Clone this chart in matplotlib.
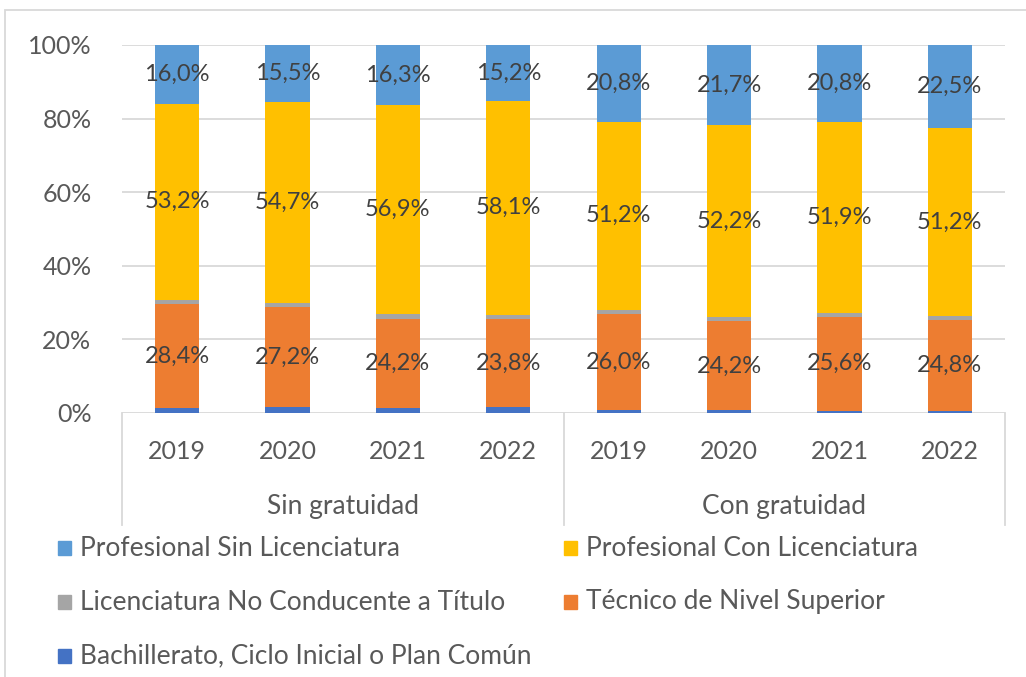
import matplotlib.pyplot as plt
from matplotlib.patches import Rectangle
from matplotlib.lines import Line2D
import numpy as np

plt.rcParams['font.family'] = ['Lato', 'DejaVu Sans']

# datos (porcentajes)
years = ["2019", "2020", "2021", "2022", "2019", "2020", "2021", "2022"]
groups = ["Sin gratuidad", "Con gratuidad"]
bachillerato = [1.3, 1.5, 1.4, 1.7, 0.8, 0.7, 0.6, 0.6]
tecnico = [28.4, 27.2, 24.2, 23.8, 26.0, 24.2, 25.6, 24.8]
no_conducente = [1.1, 1.1, 1.2, 1.2, 1.2, 1.2, 1.1, 0.9]
con_lic = [53.2, 54.7, 56.9, 58.1, 51.2, 52.2, 51.9, 51.2]
sin_lic = [16.0, 15.5, 16.3, 15.2, 20.8, 21.7, 20.8, 22.5]

series = [
    ("Bachillerato, Ciclo Inicial o Plan Común", bachillerato, "#4472C4", False),
    ("Técnico de Nivel Superior", tecnico, "#ED7D31", True),
    ("Licenciatura No Conducente a Título", no_conducente, "#A5A5A5", False),
    ("Profesional Con Licenciatura", con_lic, "#FFC000", True),
    ("Profesional Sin Licenciatura", sin_lic, "#5B9BD5", True),
]

W, H = 1026, 677
fig = plt.figure(figsize=(W / 100, H / 100), dpi=100)
ax = fig.add_axes([122 / W, 1 - 413 / H, (1005 - 122) / W, (413 - 45) / H])

x = np.arange(len(years))
bottom = np.zeros(len(years))
for name, vals, col, lab in series:
    v = np.array(vals) / 100
    ax.bar(x, v, 0.4, bottom=bottom, color=col, edgecolor="none", zorder=3)
    if lab:
        for xi, b, h, raw in zip(x, bottom, v, vals):
            ax.text(xi, b + h / 2, f"{raw:.1f}%".replace(".", ","), ha="center",
                    va="center", fontsize=17, color="#404040", zorder=4)
    bottom += v

ax.set_xlim(-0.5, len(years) - 0.5)
ax.set_ylim(0, 1)
ax.set_yticks(np.arange(0, 1.01, 0.2))
ax.set_yticklabels([f"{int(t * 100)}%" for t in np.arange(0, 1.01, 0.2)])
ax.yaxis.grid(True, color="#D9D9D9", lw=1.3, zorder=0)
ax.tick_params(axis="y", length=0, labelsize=18, labelcolor="#595959", pad=22)
ax.set_xticks([])
for s in ax.spines.values():
    s.set_visible(False)

# eje x de dos niveles
for i, yr in enumerate(years):
    ax.text(i, -0.105, yr, ha="center", va="center", fontsize=18,
            color="#595959", clip_on=False)
for g, name in enumerate(groups):
    ax.text(g * 4 + 1.5, -0.255, name, ha="center", va="center", fontsize=19,
            color="#595959", clip_on=False)
for xv in [-0.5, 3.5, 7.5]:
    ax.add_line(Line2D([xv, xv], [0, -0.305], color="#D9D9D9", lw=1.3,
                       clip_on=False))

# leyenda manual
legend_items = [
    ("Profesional Sin Licenciatura", "#5B9BD5", 58, 548),
    ("Profesional Con Licenciatura", "#FFC000", 564, 548),
    ("Licenciatura No Conducente a Título", "#A5A5A5", 58, 602),
    ("Técnico de Nivel Superior", "#ED7D31", 564, 602),
    ("Bachillerato, Ciclo Inicial o Plan Común", "#4472C4", 58, 656),
]
for name, col, px, py in legend_items:
    fig.patches.append(Rectangle((px / W, 1 - (py + 7) / H), 13 / W, 14 / H,
                                 color=col, transform=fig.transFigure))
    fig.text((px + 22) / W, 1 - py / H, name, ha="left", va="center",
             fontsize=19, color="#595959")

# borde del grafico
fig.patches.append(Rectangle((5 / W, -0.01), 1.02, 1 - 10 / H + 0.01,
                             fill=False, edgecolor="#D9D9D9", lw=1.3,
                             transform=fig.transFigure))

fig.savefig("out.png", dpi=100)
